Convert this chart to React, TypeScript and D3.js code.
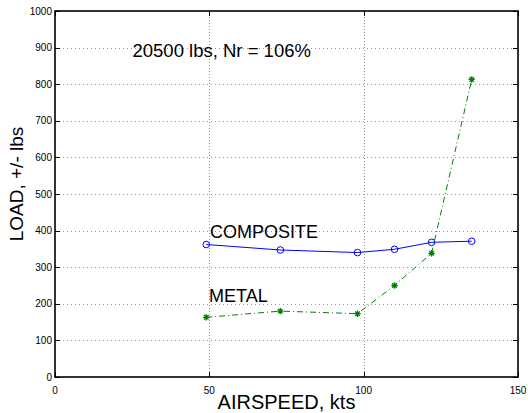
import React from 'react';
import * as d3 from 'd3';

// airspeed (kts) shared by both series
const airspeed = [49, 73, 98, 110, 122, 135];
const compositeLoad = [362, 347, 340, 349, 368, 371];
const metalLoad = [163, 180, 173, 250, 338, 813];

const xTicks = [0, 50, 100, 150];
const yTicks = [0, 100, 200, 300, 400, 500, 600, 700, 800, 900, 1000];

const W = 528;
const H = 413;
const FONT = '"Liberation Sans", Arial, Helvetica, sans-serif';

function asterisk(cx: number, cy: number, r: number) {
  const parts: string[] = [];
  for (let i = 0; i < 4; i++) {
    const a = (Math.PI / 4) * i;
    const dx = Math.cos(a) * r;
    const dy = Math.sin(a) * r;
    parts.push(`M${cx - dx},${cy - dy}L${cx + dx},${cy + dy}`);
  }
  return parts.join('');
}

function App() {
  const xScale = d3.scaleLinear().domain([0, 150]).range([55, 518]);
  const yScale = d3.scaleLinear().domain([0, 1000]).range([377, 11]);

  const line = d3
    .line<number>()
    .x((_, i) => xScale(airspeed[i]))
    .y((d) => yScale(d));

  const left = xScale(0);
  const right = xScale(150);
  const bottom = yScale(0);
  const top = yScale(1000);

  return (
    <svg
      width={W}
      height={H}
      style={{ position: 'fixed', left: 0, top: 0, background: '#fff' }}
      fontFamily={FONT}
    >
      <rect x={0} y={0} width={W} height={H} fill="#fff" />

      {/* grid */}
      <g stroke="#999" strokeWidth={1} strokeDasharray="1,3" fill="none">
        {yTicks
          .filter((t) => t > 0 && t < 1000)
          .map((t) => (
            <line key={'gy' + t} x1={left} x2={right} y1={Math.round(yScale(t)) + 0.5} y2={Math.round(yScale(t)) + 0.5} />
          ))}
        {xTicks
          .filter((t) => t > 0 && t < 150)
          .map((t) => (
            <line key={'gx' + t} x1={Math.round(xScale(t)) + 0.5} x2={Math.round(xScale(t)) + 0.5} y1={top} y2={bottom} strokeDasharray="1,2" />
          ))}
      </g>

      {/* ticks */}
      <g stroke="#000" strokeWidth={1}>
        {yTicks.map((t) => {
          const y = Math.round(yScale(t)) + 0.5;
          return (
            <g key={'ty' + t}>
              <line x1={left} x2={left + 5} y1={y} y2={y} />
              <line x1={right - 5} x2={right} y1={y} y2={y} />
            </g>
          );
        })}
        {xTicks.map((t) => {
          const x = Math.round(xScale(t)) + 0.5;
          return (
            <g key={'tx' + t}>
              <line x1={x} x2={x} y1={bottom} y2={bottom - 5} />
              <line x1={x} x2={x} y1={top} y2={top + 5} />
            </g>
          );
        })}
      </g>

      {/* axes box */}
      <rect x={left} y={top} width={right - left} height={bottom - top} fill="none" stroke="#000" strokeWidth={1.6} />

      {/* tick labels */}
      <g fontSize={10} fill="#000">
        {yTicks.map((t) => (
          <text key={'ly' + t} x={left - 3} y={yScale(t)} dy="0.35em" textAnchor="end">
            {t}
          </text>
        ))}
        {xTicks.map((t) => (
          <text key={'lx' + t} x={xScale(t)} y={bottom + 13} dy="0.35em" textAnchor="middle">
            {t}
          </text>
        ))}
      </g>

      {/* series: COMPOSITE */}
      <path d={line(compositeLoad) || ''} fill="none" stroke="#0000ff" strokeWidth={1} />
      {compositeLoad.map((v, i) => (
        <circle key={'c' + i} cx={xScale(airspeed[i])} cy={yScale(v)} r={3.3} fill="none" stroke="#0000ff" strokeWidth={1} />
      ))}

      {/* series: METAL */}
      <path d={line(metalLoad) || ''} fill="none" stroke="#008000" strokeWidth={1} strokeDasharray="6,3,1,3" />
      {metalLoad.map((v, i) => (
        <path key={'m' + i} d={asterisk(xScale(airspeed[i]), yScale(v), 3.2)} stroke="#008000" strokeWidth={1.3} fill="none" />
      ))}

      {/* annotations */}
      <text x={132.5} y={56.5} fontSize={18.5} fill="#000">20500 lbs, Nr = 106%</text>
      <text x={210} y={237.5} fontSize={18} fill="#000">COMPOSITE</text>
      <text x={209} y={301.5} fontSize={18} fill="#000">METAL</text>

      {/* axis labels */}
      <text x={(left + right) / 2} y={409} fontSize={20} textAnchor="middle" fill="#000">AIRSPEED, kts</text>
      <text transform={`translate(23,184) rotate(-90)`} fontSize={19} textAnchor="middle" fill="#000">LOAD, +/- lbs</text>
    </svg>
  );
}

export default App;
